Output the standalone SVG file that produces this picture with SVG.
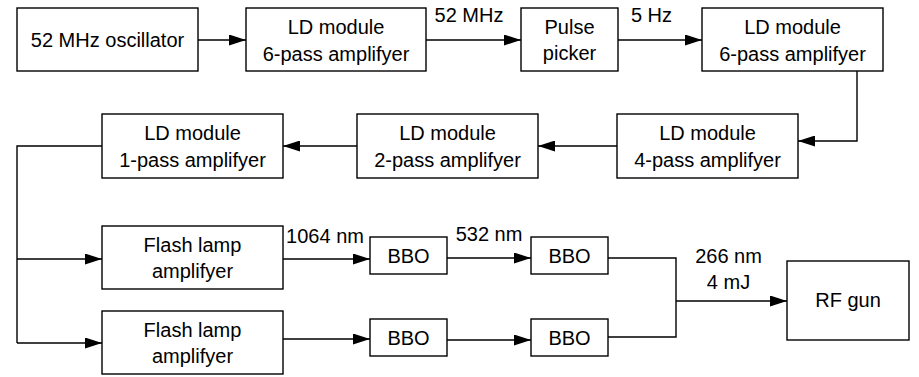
<svg xmlns="http://www.w3.org/2000/svg" width="919" height="377" viewBox="0 0 919 377">
<style>
.box{fill:#fff;stroke:#000;stroke-width:1.4}
.ln{fill:none;stroke:#000;stroke-width:1.4}
.t{font-family:"Liberation Sans",Arial,sans-serif;font-size:20px;fill:#000;text-anchor:middle}
</style>
<defs>
<marker id="ah" markerUnits="userSpaceOnUse" markerWidth="17" markerHeight="11" refX="17" refY="5.5" orient="auto">
<path d="M0,0 L17,5.5 L0,11 z" fill="#000"/>
</marker>
</defs>
<rect width="919" height="377" fill="#fff"/>
<g id="connectors">
<line class="ln" x1="198" y1="40" x2="246" y2="40" marker-end="url(#ah)"/>
<line class="ln" x1="426" y1="40" x2="521" y2="40" marker-end="url(#ah)"/>
<line class="ln" x1="618" y1="40" x2="702" y2="40" marker-end="url(#ah)"/>
<polyline class="ln" points="857,71 857,141 798,141" marker-end="url(#ah)"/>
<line class="ln" x1="617" y1="146" x2="538" y2="146" marker-end="url(#ah)"/>
<line class="ln" x1="357" y1="146" x2="283" y2="146" marker-end="url(#ah)"/>
<polyline class="ln" points="102,146 17,146 17,343"/>
<line class="ln" x1="17" y1="259" x2="102" y2="259" marker-end="url(#ah)"/>
<line class="ln" x1="17" y1="343" x2="102" y2="343" marker-end="url(#ah)"/>
<line class="ln" x1="283" y1="259" x2="370" y2="259" marker-end="url(#ah)"/>
<line class="ln" x1="283" y1="339" x2="370" y2="339" marker-end="url(#ah)"/>
<line class="ln" x1="447" y1="258" x2="531" y2="258" marker-end="url(#ah)"/>
<line class="ln" x1="447" y1="340" x2="531" y2="340" marker-end="url(#ah)"/>
<polyline class="ln" points="608,258 676,258 676,337 608,337"/>
<line class="ln" x1="676" y1="301" x2="787" y2="301" marker-end="url(#ah)"/>
<text class="t" x="469" y="22">52 MHz</text>
<text class="t" x="651.5" y="22">5 Hz</text>
<text class="t" x="325" y="243">1064 nm</text>
<text class="t" x="489" y="241">532 nm</text>
<text class="t" x="728.5" y="263">266 nm</text>
<text class="t" x="728.5" y="289">4 mJ</text>
</g>
<g id="oscillator">
<rect class="box" x="17" y="8" width="181" height="63"/>
<text class="t" x="107.5" y="47">52 MHz oscillator</text>
</g>
<g id="ld6a">
<rect class="box" x="246" y="8" width="180" height="63"/>
<text class="t" x="336" y="34">LD module</text>
<text class="t" x="336" y="61">6-pass amplifyer</text>
</g>
<g id="pulse-picker">
<rect class="box" x="521" y="8" width="97" height="63"/>
<text class="t" x="569.5" y="34">Pulse</text>
<text class="t" x="569.5" y="60">picker</text>
</g>
<g id="ld6b">
<rect class="box" x="702" y="8" width="181" height="63"/>
<text class="t" x="792.5" y="34">LD module</text>
<text class="t" x="792.5" y="61">6-pass amplifyer</text>
</g>
<g id="ld4">
<rect class="box" x="617" y="114" width="181" height="64"/>
<text class="t" x="707.5" y="140">LD module</text>
<text class="t" x="707.5" y="167">4-pass amplifyer</text>
</g>
<g id="ld2">
<rect class="box" x="357" y="114" width="181" height="64"/>
<text class="t" x="447.5" y="140">LD module</text>
<text class="t" x="447.5" y="167">2-pass amplifyer</text>
</g>
<g id="ld1">
<rect class="box" x="102" y="114" width="181" height="64"/>
<text class="t" x="192.5" y="140">LD module</text>
<text class="t" x="192.5" y="167">1-pass amplifyer</text>
</g>
<g id="flash1">
<rect class="box" x="102" y="226" width="181" height="63"/>
<text class="t" x="192.5" y="252">Flash lamp</text>
<text class="t" x="192.5" y="278">amplifyer</text>
</g>
<g id="flash2">
<rect class="box" x="102" y="311" width="181" height="63"/>
<text class="t" x="192.5" y="337">Flash lamp</text>
<text class="t" x="192.5" y="363">amplifyer</text>
</g>
<g id="bbo1">
<rect class="box" x="370" y="237" width="77" height="37"/>
<text class="t" x="408.5" y="262.5">BBO</text>
</g>
<g id="bbo2">
<rect class="box" x="370" y="319" width="77" height="37"/>
<text class="t" x="408.5" y="344.5">BBO</text>
</g>
<g id="bbo3">
<rect class="box" x="531" y="237" width="77" height="37"/>
<text class="t" x="569.5" y="262.5">BBO</text>
</g>
<g id="bbo4">
<rect class="box" x="531" y="319" width="77" height="37"/>
<text class="t" x="569.5" y="344.5">BBO</text>
</g>
<g id="rf-gun">
<rect class="box" x="787" y="261" width="122" height="79"/>
<text class="t" x="848" y="307">RF gun</text>
</g>
</svg>
